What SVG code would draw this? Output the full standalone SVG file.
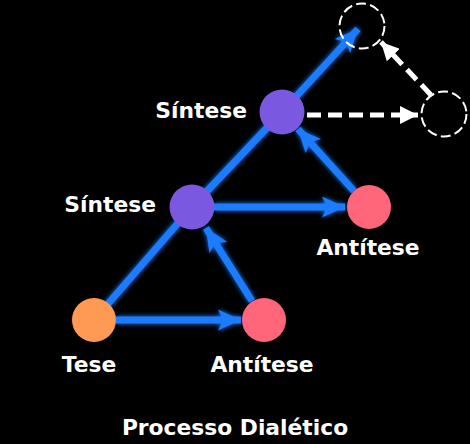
<svg xmlns="http://www.w3.org/2000/svg" width="470" height="444" viewBox="0 0 470 444">
<defs>
<style>
.lbl{font-family:"DejaVu Sans","Verdana",sans-serif;font-weight:bold;font-size:21.8px;fill:#ffffff}
.blue{stroke:#1f7bff;stroke-width:7;fill:none}
.wdash{stroke:#ffffff;stroke-width:5;stroke-dasharray:14 7;fill:none}
.ghost{fill:none;stroke:#ffffff;stroke-width:2;stroke-dasharray:10 4.2}
</style>
<filter id="glow" x="-20%" y="-20%" width="140%" height="140%">
<feGaussianBlur in="SourceGraphic" stdDeviation="2.6" result="b"/>
<feMerge><feMergeNode in="b"/><feMergeNode in="SourceGraphic"/></feMerge>
</filter>
<marker id="ab" viewBox="0 0 23 21" refX="23" refY="10.5" markerWidth="23" markerHeight="21" markerUnits="userSpaceOnUse" orient="auto">
<path d="M0,0 L23,10.5 L0,21 L5,10.5 Z" fill="#1f7bff"/>
</marker>
<marker id="aw" viewBox="0 0 18 18" refX="18" refY="9" markerWidth="18" markerHeight="18" markerUnits="userSpaceOnUse" orient="auto">
<path d="M0,0 L18,9 L0,18 Z" fill="#ffffff"/>
</marker>
</defs>
<rect width="470" height="444" fill="#000000"/>
<g id="connectors">
<g filter="url(#glow)">
<line class="blue" x1="94" y1="320" x2="192" y2="207"/>
<line class="blue" x1="192" y1="207" x2="282" y2="112"/>
<line class="blue" x1="282" y1="112" x2="358" y2="29" marker-end="url(#ab)"/>
<line class="blue" x1="116" y1="320" x2="241" y2="320" marker-end="url(#ab)"/>
<line class="blue" x1="252" y1="301" x2="206" y2="228" marker-end="url(#ab)"/>
<line class="blue" x1="214" y1="207" x2="345" y2="207" marker-end="url(#ab)"/>
<line class="blue" x1="354" y1="191" x2="298" y2="129" marker-end="url(#ab)"/>
</g>
<line class="wdash" x1="307" y1="115" x2="418" y2="115" marker-end="url(#aw)"/>
<line class="wdash" x1="431" y1="95" x2="381" y2="42" marker-end="url(#aw)"/>
</g>
<g id="tese"><circle cx="94" cy="320" r="22" fill="#ff9a55"/><text class="lbl" x="89" y="372" text-anchor="middle">Tese</text></g>
<g id="antitese1"><circle cx="264" cy="320" r="22" fill="#ff667a"/><text class="lbl" x="262" y="372" text-anchor="middle">Antítese</text></g>
<g id="sintese1"><circle cx="192" cy="207" r="22.5" fill="#7b58e0"/><text class="lbl" x="156" y="212" text-anchor="end">Síntese</text></g>
<g id="antitese2"><circle cx="369" cy="207" r="22" fill="#ff667a"/><text class="lbl" x="368" y="255" text-anchor="middle">Antítese</text></g>
<g id="sintese2"><circle cx="282" cy="112" r="22.5" fill="#7b58e0"/><text class="lbl" x="247" y="118" text-anchor="end">Síntese</text></g>
<g id="futuro1"><circle class="ghost" cx="362" cy="26" r="22.5"/></g>
<g id="futuro2"><circle class="ghost" cx="444" cy="114" r="22.5"/></g>
<g id="titulo"><text class="lbl" x="235" y="435" text-anchor="middle">Processo Dialético</text></g>
</svg>
